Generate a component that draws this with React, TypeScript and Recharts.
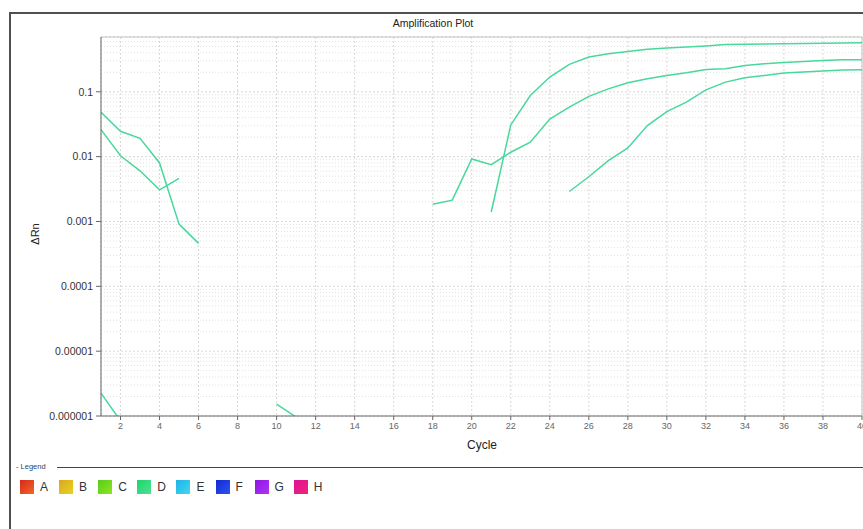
// App.tsx — qPCR amplification plot (log ΔRn vs cycle) via Recharts

import { LineChart, Line, XAxis, YAxis, CartesianGrid, ReferenceLine } from "recharts";

const cycles = [
    1, 2, 3, 4, 5, 6, 7, 8, 9, 10, 11, 12, 13, 14, 15, 16, 17, 18, 19, 20,
    21, 22, 23, 24, 25, 26, 27, 28, 29, 30, 31, 32, 33, 34, 35, 36, 37, 38, 39, 40,
];

// three wells, null where ΔRn <= 0 (gaps on the log axis)
const well1 = [
    0.0485, 0.0246, 0.0192, 0.008, 0.00091, 0.00046, null, null, null, null,
    null, null, null, null, null, null, null, 0.00185, 0.00213, 0.0092,
    0.0075, 0.0117, 0.0167, 0.038, 0.058, 0.085, 0.111, 0.138, 0.159, 0.179,
    0.197, 0.221, 0.227, 0.255, 0.271, 0.284, 0.294, 0.305, 0.313, 0.313,
];
const well2 = [
    0.0261, 0.0103, 0.00605, 0.00308, 0.00461, null, null, null, null, 0.00000153,
    0.00000096, null, null, null, null, null, null, null, null, null,
    0.0014, 0.0308, 0.0877, 0.169, 0.265, 0.344, 0.387, 0.42, 0.452, 0.474,
    0.492, 0.51, 0.534, 0.54, 0.545, 0.55, 0.555, 0.56, 0.565, 0.57,
];
const well3 = [
    0.00000225, 0.00000084, null, null, null, null, null, null, null, null,
    null, null, null, null, null, null, null, null, null, null,
    null, null, null, null, 0.0029, 0.00489, 0.00865, 0.0136, 0.0301, 0.0496,
    0.0693, 0.107, 0.141, 0.165, 0.179, 0.195, 0.202, 0.209, 0.217, 0.219,
];

const xTicks = [2, 4, 6, 8, 10, 12, 14, 16, 18, 20, 22, 24, 26, 28, 30, 32, 34, 36, 38, 40];
const yTicks = [0.000001, 0.00001, 0.0001, 0.001, 0.01, 0.1];
const yTickLabels = ["0.000001", "0.00001", "0.0001", "0.001", "0.01", "0.1"];
const yMax = 0.7;

const legendNames = ["A", "B", "C", "D", "E", "F", "G", "H"];
const legendColors = [
    ["#d9261f", "#f06a22"],
    ["#dca61e", "#e6d422"],
    ["#58cc1c", "#8ce622"],
    ["#1fd46a", "#4ee096"],
    ["#1cb4e6", "#44d6f0"],
    ["#1428d2", "#2c56ee"],
    ["#8a18e4", "#b434f0"],
    ["#dc1494", "#f0247a"],
];

const lineColor = "#48d89c";
const font = "'Liberation Sans', Arial, sans-serif";

const data = cycles.map((c, i) => ({ cycle: c, w1: well1[i], w2: well2[i], w3: well3[i] }));

// minor log grid lines (2..9 x each decade)
const minorLines: number[] = [];
for (let e = -6; e <= -1; e++) {
    for (let k = 2; k <= 9; k++) {
        const v = k * Math.pow(10, e);
        if (v < yMax) minorLines.push(v);
    }
}

export default function App() {
    return (
        <div style={{ position: "absolute", left: 0, top: 0, width: 863, height: 529, background: "#fff", overflow: "hidden", fontFamily: font }}>
            <div style={{ position: "absolute", left: 9, top: 12, width: 900, height: 600, borderLeft: "2px solid #505050", borderTop: "2px solid #505050" }} />
            <div style={{ position: "absolute", left: 0, width: 866, top: 17, textAlign: "center", fontSize: 10.5, color: "#222" }}>
                Amplification Plot
            </div>
            <LineChart
                width={863}
                height={460}
                data={data}
                margin={{ top: 37, right: 1, bottom: 4, left: 11 }}
                style={{ position: "absolute", left: 0, top: 0 }}
            >
                <CartesianGrid stroke="#d8d8d8" strokeDasharray="2 2" />
                {minorLines.map((v) => (
                    <ReferenceLine key={v} y={v} stroke="#e2e2e2" strokeDasharray="1 2" />
                ))}
                <ReferenceLine y={yMax} stroke="#c4c4c4" />
                <ReferenceLine x={40} stroke="#c4c4c4" />
                <XAxis
                    dataKey="cycle"
                    type="number"
                    domain={[1, 40]}
                    ticks={xTicks}
                    interval={0}
                    height={40}
                    stroke="#666"
                    tickSize={4}
                    tickMargin={3}
                    tick={{ fontSize: 9, fill: "#666", fontFamily: font }}
                />
                <YAxis
                    type="number"
                    scale="log"
                    domain={[0.000001, yMax]}
                    allowDataOverflow
                    ticks={yTicks}
                    interval={0}
                    width={90}
                    stroke="#666"
                    tickSize={5}
                    tickMargin={3}
                    tickFormatter={(v: number) => yTickLabels[yTicks.indexOf(v)] ?? String(v)}
                    tick={{ fontSize: 10.5, fill: "#333", fontFamily: font }}
                />
                <Line dataKey="w1" stroke={lineColor} strokeWidth={1.5} dot={false} isAnimationActive={false} connectNulls={false} />
                <Line dataKey="w2" stroke={lineColor} strokeWidth={1.5} dot={false} isAnimationActive={false} connectNulls={false} />
                <Line dataKey="w3" stroke={lineColor} strokeWidth={1.5} dot={false} isAnimationActive={false} connectNulls={false} />
            </LineChart>
            <div style={{ position: "absolute", left: 24, top: 228, transform: "rotate(-90deg)", fontSize: 11, color: "#222" }}>ΔRn</div>
            <div style={{ position: "absolute", left: 467, top: 438, fontSize: 12, color: "#222" }}>Cycle</div>
            <div style={{ position: "absolute", left: 16, top: 462, fontSize: 7.5, color: "#2c4468" }}>- Legend</div>
            <div style={{ position: "absolute", left: 57, top: 467, width: 820, height: 1, background: "#2c4a6e" }} />
            {legendNames.map((n, i) => (
                <div key={n} style={{ position: "absolute", left: 20 + i * 39.1, top: 480, display: "flex", alignItems: "center" }}>
                    <div style={{ width: 14, height: 14, background: `linear-gradient(135deg, ${legendColors[i][0]}, ${legendColors[i][1]})` }} />
                    <span style={{ marginLeft: 6, fontSize: 12, color: "#333" }}>{n}</span>
                </div>
            ))}
        </div>
    );
}
